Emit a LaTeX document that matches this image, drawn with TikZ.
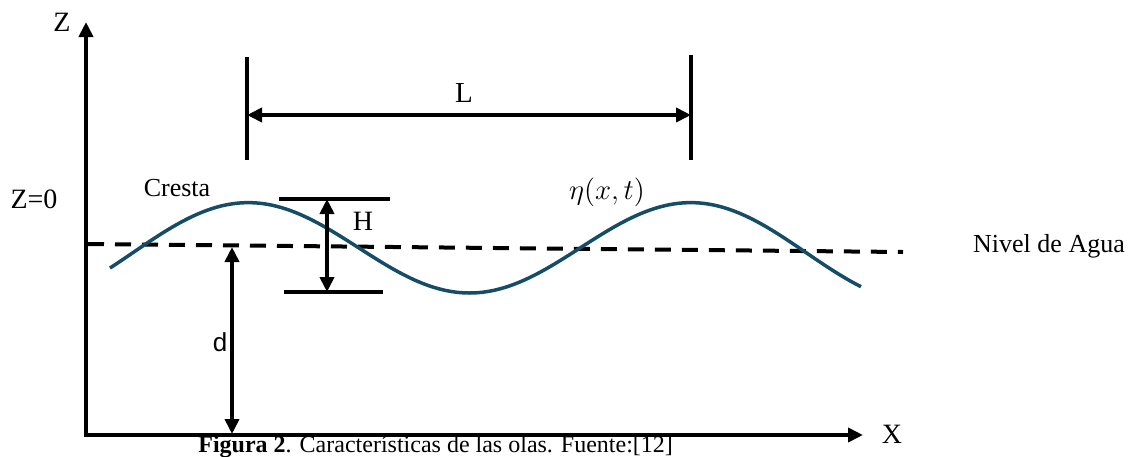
\documentclass[tikz,border=0pt]{standalone}
\usepackage{fontspec}
\setmainfont{Liberation Serif}
\newfontfamily\arialfont{Liberation Sans}
\usepackage{tikz}
\usetikzlibrary{arrows.meta}
\definecolor{wave}{RGB}{22,77,102}

\begin{document}
\begin{tikzpicture}[x=0.5pt, y=-0.5pt, font=\fontsize{13}{15}\selectfont,
  bar/.style={line width=2pt},
  dimarrow/.style={line width=2pt, {Triangle[length=7.5pt,width=7pt]}-{Triangle[length=7.5pt,width=7pt]}},
  biglabel/.style={font=\fontsize{14}{16}\selectfont}]
  \useasboundingbox (0,0) rectangle (1131,456);
  % axes
  \coordinate (ztip) at (86,22);
  \coordinate (orig) at (86,435);
  \coordinate (xtip) at (863,435);
  \draw[dimarrow] (ztip) -- (orig) -- (xtip);
  \node[biglabel] (zlab) at (62,22) {Z};
  \node[biglabel] (xlab) at (892,434) {X};
  \node[biglabel] (zero) at (34,199) {Z=0};
  % water level
  \coordinate (lvl0) at (88,244);
  \coordinate (lvl1) at (903,252);
  \draw[line width=2pt, dash pattern=on 8pt off 5.5pt] (lvl0) -- (lvl1);
  \node (nivel) at (1049,246) {Nivel de Agua};
  % wave
  \draw[wave, line width=1.75pt] plot[domain=110:861, samples=120, smooth]
    (\x, {247.5-45.5*cos(0.809*(\x-247))+6*((\x-470)/390)^4});
  \node (cresta) at (177,188) {Cresta};
  \node[font=\fontsize{15}{17}\selectfont] (eta) at (607,192) {$\eta(x,t)$};
  % L
  \coordinate (la0) at (247,57);
  \coordinate (la1) at (247,160);
  \coordinate (lb0) at (691,55);
  \coordinate (lb1) at (691,160);
  \draw[bar] (la0) -- (la1);
  \draw[bar] (lb0) -- (lb1);
  \coordinate (lleft) at (247,115);
  \coordinate (lright) at (691,115);
  \draw[dimarrow] (lleft) -- (lright);
  \node[font=\fontsize{14.5}{16}\selectfont] (llab) at (464,93) {L};
  % H
  \coordinate (ht0) at (279,199);
  \coordinate (ht1) at (390,199);
  \coordinate (hb0) at (284,292);
  \coordinate (hb1) at (383,292);
  \draw[bar] (ht0) -- (ht1);
  \draw[bar] (hb0) -- (hb1);
  \coordinate (htop) at (327,199);
  \coordinate (hbot) at (327,292);
  \draw[dimarrow] (htop) -- (hbot);
  \node[biglabel] (hlab) at (363,221) {H};
  % d
  \coordinate (dtop) at (232,247);
  \coordinate (dbot) at (232,434);
  \draw[dimarrow] (dtop) -- (dbot);
  \node (dlab) at (220,342) {\arialfont d};
  \node[anchor=base west, inner sep=0pt, font=\fontsize{12}{14}\selectfont] (caption) at (198,452)
    {\textbf{Figura 2}. Características de las olas. Fuente:[12]};
\end{tikzpicture}
\end{document}
